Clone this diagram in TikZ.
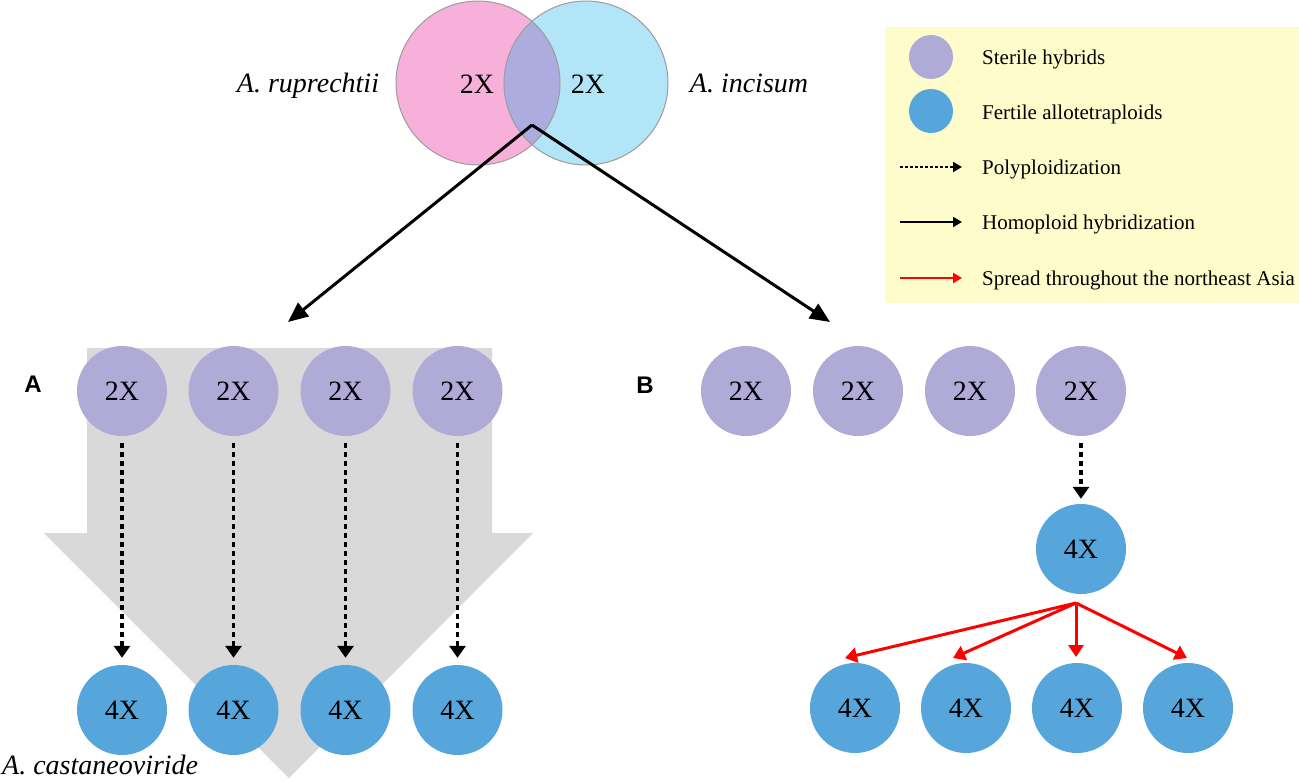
\documentclass[tikz,border=0pt]{standalone}
\usepackage{fontspec}
\setmainfont{Liberation Serif}
\newfontfamily\labelfont{Liberation Sans}
\usetikzlibrary{arrows.meta}
\definecolor{hybrid}{HTML}{B0AAD6}
\definecolor{tetra}{HTML}{56A6DC}
\definecolor{pinkc}{HTML}{F7B0DA}
\definecolor{bluec}{HTML}{B2E5F7}
\definecolor{overc}{HTML}{ACACDE}
\definecolor{graya}{HTML}{D9D9D9}
\definecolor{legbg}{HTML}{FFFCCC}
\definecolor{vennline}{HTML}{9C9C9C}
\definecolor{redarr}{HTML}{FF0000}
\begin{document}
\begin{tikzpicture}[x=1pt,y=-1pt,
  hyb/.style={circle,fill=hybrid,minimum size=90pt,inner sep=0pt,font=\fontsize{28}{30}\selectfont},
  tet/.style={circle,fill=tetra,minimum size=90pt,inner sep=0pt,font=\fontsize{28}{30}\selectfont},
  legdot/.style={circle,minimum size=44pt,inner sep=0pt},
  polyarrow/.style={line width=3.5pt,dash pattern=on 5pt off 4pt,-{Triangle[length=12pt,width=16pt]}},
  homarrow/.style={line width=3pt,-{Triangle[length=20pt,width=17pt]}},
  redarrow/.style={redarr,line width=3pt,-{Triangle[length=12pt,width=15pt]}},
  legpoly/.style={line width=2pt,dash pattern=on 3pt off 2pt,-{Triangle[length=9pt,width=10pt]}},
  leghom/.style={line width=2pt,-{Triangle[length=9pt,width=10pt]}},
  legred/.style={redarr,line width=2pt,-{Triangle[length=9pt,width=10pt]}},
  legtext/.style={anchor=base west,font=\fontsize{21}{24}\selectfont,inner sep=0pt},
  species/.style={anchor=base,font=\fontsize{28}{30}\selectfont\itshape,inner sep=0pt},
  panel/.style={font=\labelfont\bfseries\fontsize{24}{26}\selectfont},
  vennlabel/.style={font=\fontsize{28}{30}\selectfont}
]
\useasboundingbox (0,0) rectangle (1299,782);

% legend background
\fill[legbg] (885,27) rectangle (1299,303);

% Venn diagram
\fill[pinkc] (478,83) circle (82);
\fill[bluec] (586,83) circle (82);
\begin{scope}
  \clip (478,83) circle (82);
  \fill[overc] (586,83) circle (82);
\end{scope}
\draw[vennline,line width=1pt] (478,83) circle (82);
\draw[vennline,line width=1pt] (586,83) circle (82);
\node[vennlabel] (v1) at (477,84) {2X};
\node[vennlabel] (v2) at (588,84) {2X};
\node[species] (rup) at (308,92) {A. ruprechtii};
\node[species] (inc) at (749,92) {A. incisum};

% gray big arrow
\fill[graya] (87,348) -- (492,348) -- (492,533) -- (533,533) -- (289,778)
  -- (44,533) -- (87,533) -- cycle;

% homoploid hybridization arrows
\coordinate (apex) at (532,125);
\coordinate (endA) at (288,322);
\coordinate (endB) at (830,322);
\draw[homarrow] (apex) -- (endA);
\draw[homarrow] (apex) -- (endB);

% panel labels
\node[panel] (labA) at (33,384) {A};
\node[panel] (labB) at (645,385) {B};

% panel A
\node[hyb] (a1) at (122,391) {2X};
\node[hyb] (a2) at (233.5,391) {2X};
\node[hyb] (a3) at (345.5,391) {2X};
\node[hyb] (a4) at (457.5,391) {2X};
\node[tet] (a5) at (122,710) {4X};
\node[tet] (a6) at (233.5,710) {4X};
\node[tet] (a7) at (345.5,710) {4X};
\node[tet] (a8) at (457.5,710) {4X};
\foreach \s/\t in {a1/a5,a2/a6,a3/a7,a4/a8}
  \draw[polyarrow,shorten <=7pt,shorten >=7pt] (\s) -- (\t);
\node[species,anchor=base west] (cast) at (2,774) {A. castaneoviride};

% panel B
\node[hyb] (b1) at (746,391) {2X};
\node[hyb] (b2) at (858,391) {2X};
\node[hyb] (b3) at (970,391) {2X};
\node[hyb] (b4) at (1081,391) {2X};
\node[tet] (m) at (1081,549) {4X};
\draw[polyarrow,shorten <=7pt,shorten >=5pt] (b4) -- (m);
\node[tet] (c1) at (855,708) {4X};
\node[tet] (c2) at (966,708) {4X};
\node[tet] (c3) at (1077,708) {4X};
\node[tet] (c4) at (1188,708) {4X};
\coordinate (rs) at (1076,603);
\coordinate (t1) at (845,658);
\coordinate (t2) at (953,658);
\coordinate (t3) at (1076,657);
\coordinate (t4) at (1187,658);
\foreach \t in {t1,t2,t3,t4}
  \draw[redarrow] (rs) -- (\t);

% legend
\node[legdot,fill=hybrid] (lg1) at (931,57) {};
\node[legdot,fill=tetra] (lg2) at (931,111) {};
\node[legtext] (lt1) at (982,64) {Sterile hybrids};
\node[legtext] (lt2) at (982,119) {Fertile allotetraploids};
\node[legtext] (lt3) at (982,174) {Polyploidization};
\node[legtext] (lt4) at (982,229) {Homoploid hybridization};
\node[legtext] (lt5) at (982,285) {Spread throughout the northeast Asia};
\coordinate (p1s) at (900,167); \coordinate (p1e) at (962,167);
\coordinate (p2s) at (900,222); \coordinate (p2e) at (962,222);
\coordinate (p3s) at (900,278); \coordinate (p3e) at (962,278);
\draw[legpoly] (p1s) -- (p1e);
\draw[leghom] (p2s) -- (p2e);
\draw[legred] (p3s) -- (p3e);
\end{tikzpicture}
\end{document}
